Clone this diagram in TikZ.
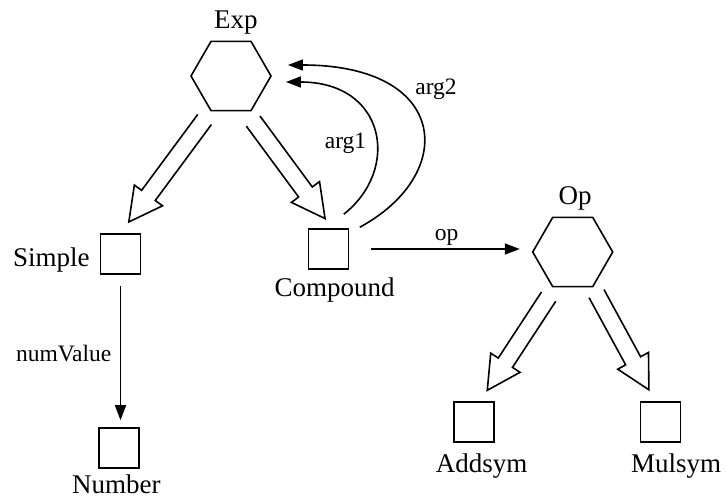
\documentclass[tikz,border=0pt]{standalone}
\usepackage{fontspec}
\setmainfont{Liberation Serif}
\usetikzlibrary{shapes.geometric,arrows.meta,calc}
\begin{document}
\begin{tikzpicture}[x=1pt,y=-1pt,
  line width=1.6pt,
  cls/.style={draw, regular polygon, regular polygon sides=6, minimum size=80pt, inner sep=0pt},
  obj/.style={draw, rectangle, minimum size=40pt, inner sep=0pt},
  typename/.style={font=\fontsize{27}{30}\selectfont, inner sep=0pt, anchor=base},
  role/.style={font=\fontsize{23.5}{26}\selectfont, inner sep=0pt, anchor=base},
  ref/.style={-{Triangle[length=15pt,width=11pt]}},
  % open block arrow: #1 gap after the start point, #2 gap before the target point
  hollow/.style 2 args={line join=miter, to path={
    let \p1=(\tikztostart), \p2=(\tikztotarget),
        \n1={atan2(\y2-\y1,\x2-\x1)},
        \n2={veclen(\x2-\x1,\y2-\y1)-#1pt-#2pt-33pt}
    in ($(\p1)+(\n1:#1pt)+(\n1+90:8.5pt)$)
       -- ++(\n1:\n2) -- ++(\n1+90:9pt)
       -- ($(\p2)+(\n1+180:#2pt)$)
       -- ($(\p1)+(\n1:#1pt)+(\n1:\n2)+(\n1-90:17.5pt)$)
       -- ++(\n1+90:9pt)
       -- ($(\p1)+(\n1:#1pt)+(\n1-90:8.5pt)$)
  }}
]
\useasboundingbox (0,0) rectangle (727,500);

% classes
\node[cls] (exp) at (231,76) {};
\node[cls] (op) at (572.7,252) {};

% objects
\node[obj] (simple) at (120.5,254) {};
\node[obj] (comp) at (328.5,249) {};
\node[obj] (num) at (119,448) {};
\node[obj] (add) at (474.2,422) {};
\node[obj] (mul) at (660.3,422) {};

% type names
\node[typename] (expname) at (235.8,28.3) {Exp};
\node[typename] (opname) at (575,204) {Op};
\node[typename] (simplename) at (51.4,266) {Simple};
\node[typename] (compname) at (334.7,296) {Compound};
\node[typename] (numname) at (116.3,493.3) {Number};
\node[typename] (addname) at (481.7,472.3) {Addsym};
\node[typename] (mulname) at (676,472.3) {Mulsym};

% subtype arrows
\draw (exp.240) to[hollow={10}{14}] (simple.north);
\draw (exp.293) to[hollow={12}{12}] (comp.80);
\draw (op.243) to[hollow={11}{13}] (add.74);
\draw (op.300) to[hollow={7}{13}] (mul.104);

% references
\draw[ref] ($(comp.north east)+(-5.5,-14)$) .. controls +(57,-45) and +(100,0) .. ($(exp.east)+(14,6)$);
\draw[ref] ($(comp.north east)+(10.5,-1)$) .. controls +(98,-53) and +(162,0) .. ($(exp.east)+(16,-11)$);
\draw[ref, shorten <=11pt, shorten >=7pt] (simple.south) -- (simple.south |- num.north);
\draw[ref, shorten <=22pt, shorten >=12pt] (comp.east) -- (comp.east -| op.west);

% role labels
\node[role] (arg1) at (345.5,148) {arg1};
\node[role] (arg2) at (436,95) {arg2};
\node[role] (numvalue) at (63.7,361.7) {numValue};
\node[role] (oplabel) at (446.7,240) {op};
\end{tikzpicture}
\end{document}
